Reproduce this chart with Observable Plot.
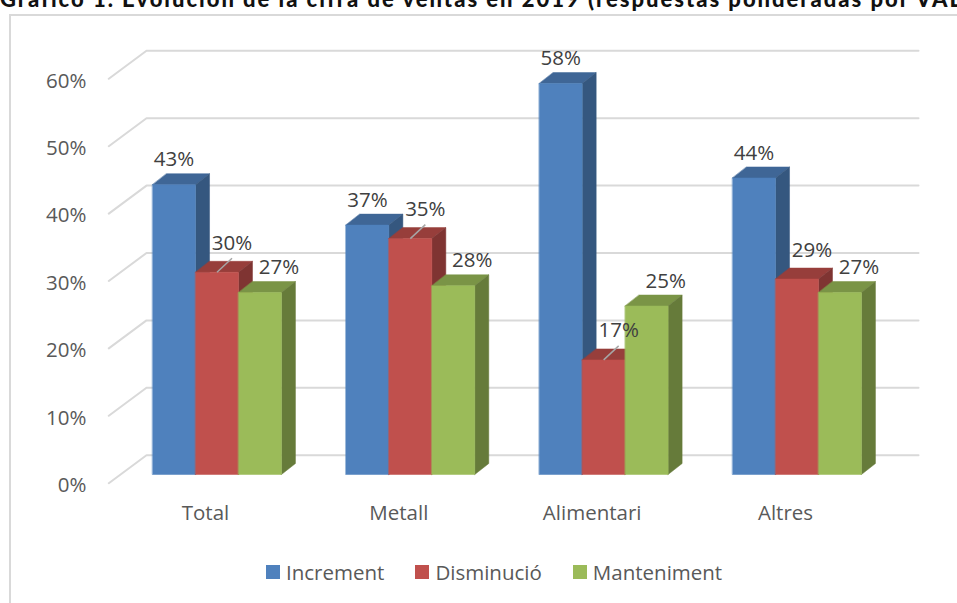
<!DOCTYPE html>
<html><head><meta charset="utf-8">
<script src="https://cdn.jsdelivr.net/npm/d3@7"></script>
<script src="https://cdn.jsdelivr.net/npm/@observablehq/plot@0.6"></script>
<style>
html,body{margin:0;padding:0;background:#fff;}
body{width:957px;height:603px;overflow:hidden;position:relative;font-family:"Open Sans",sans-serif;}
#title{position:absolute;left:0;top:0;width:957px;height:15px;overflow:hidden;}
#title span{position:absolute;left:0;white-space:nowrap;font-family:Lato;font-weight:900;font-size:22px;color:#111;line-height:22px;top:-12px;}
#box{position:absolute;left:9px;top:14px;width:1000px;height:700px;border-left:2px solid #d9d9d9;border-top:2px solid #d9d9d9;}
#chart{position:absolute;left:0;top:1px;}
#legend{position:absolute;left:266px;top:558px;}
#legend .lg-swatches-wrap{min-height:28px !important;margin:0 !important;}
#legend .lg-swatch{margin-right:31px !important;}
#legend .lg-swatch > svg{margin-right:6px !important;}
</style>
</head><body>
<div id="title"><span id="tspan"></span></div>
<div id="box"><div id="chart"></div></div>
<div id="legend"></div>
<script>
const titleText = "Gráfico 1. Evolución de la cifra de ventas en 2019 (respuestas ponderadas por VAB)";
const categories = ["Total", "Metall", "Alimentari", "Altres"];
const series = ["Increment", "Disminució", "Manteniment"];
const increment = [43, 37, 58, 44];
const disminucio = [30, 35, 17, 29];
const manteniment = [27, 28, 25, 27];
const yTicks = [0, 10, 20, 30, 40, 50, 60];
const leaderCats = ["Total", "Metall", "Alimentari"];

// styles
const frontColors = ["#4f81bd", "#c0504d", "#9bbb59"];
const sideColors  = ["#35577f", "#7f3432", "#667b3a"];
const topColors   = ["#3f6696", "#973e3b", "#7a9446"];
const labelOffsets = [[0, -25], [15, -29], [19, -25]];
const values = [increment, disminucio, manteniment];

// geometry (data units)
const w = 2 / 9;           // bar width in category units
const ddx = 14 / 193.33;    // bar depth, x
const ddy = 11 / 6.74;      // bar depth, y
const wallDy = 19.3 / 6.74;
const floorDy = -8.7 / 6.74;
const wallX0 = -0.5597, wallX1 = -0.3647, wallX2 = 3.6285;

// title fitting
(function(){
  const span = document.getElementById("tspan");
  span.textContent = titleText;
  const c = document.createElement("canvas").getContext("2d");
  c.font = "900 22px Lato";
  const pre = titleText.slice(0, titleText.indexOf("VAB") + 2);
  const wd = c.measureText(pre).width;
  span.style.letterSpacing = ((951 - wd) / pre.length) + "px";
})();

// gridlines
const grid = [];
for (const L of yTicks) {
  grid.push({level: L, x: wallX0, y: L + floorDy});
  grid.push({level: L, x: wallX1, y: L + wallDy});
  grid.push({level: L, x: wallX2, y: L + wallDy});
}

// bars as polygons
const polys = [];
const labels = [];
categories.forEach((cat, i) => {
  series.forEach((s, j) => {
    const v = values[j][i];
    const xl = i + (j - 1.5) * w, xr = xl + w;
    const id = cat + "-" + s;
    const add = (face, color, pts) => pts.forEach(([x, y]) => polys.push({id: id + face, color, x, y}));
    add("top", topColors[j], [[xl, v], [xr, v], [xr + ddx, v + ddy], [xl + ddx, v + ddy]]);
    add("side", sideColors[j], [[xr, 0], [xr + ddx, ddy], [xr + ddx, v + ddy], [xr, v]]);
    add("front", frontColors[j], [[xl, 0], [xr, 0], [xr, v], [xl, v]]);
    labels.push({cat, s, j, v, x: xl + w / 2, text: v + "%"});
  });
});

const leaders = labels.filter(d => d.j === 1 && leaderCats.includes(d.cat))
  .map(d => ({x1: d.x, y1: d.v, x2: d.x + 15 / 193.33, y2: d.v + 14 / 6.74}));

const textStyle = {fontSize: 20.5, fill: "#404040", textAnchor: "middle", lineAnchor: "middle"};

const chart = Plot.plot({
  width: 946,
  height: 530,
  marginLeft: 80,
  marginBottom: 73,
  marginTop: 0,
  marginRight: 0,
  style: {fontFamily: "'Open Sans', sans-serif", fontSize: "20.5px", color: "#595959", background: "transparent"},
  x: {type: "linear", domain: [0, 3], range: [205.5, 785.5]},
  y: {domain: [0, 60], range: [457, 52.6]},
  color: {type: "identity"},
  marks: [
    Plot.line(grid, {x: "x", y: "y", z: "level", stroke: "#d9d9d9", strokeWidth: 2}),
    Plot.line(polys, {x: "x", y: "y", z: "id", fill: "color", stroke: "color", strokeWidth: 0.5, curve: "linear-closed"}),
    Plot.link(leaders, {x1: "x1", y1: "y1", x2: "x2", y2: "y2", stroke: "#a6a6a6", strokeWidth: 1.5}),
    ...[0, 1, 2].map(j => Plot.text(labels.filter(d => d.j === j), {
      x: "x", y: "v", text: "text", dx: labelOffsets[j][0], dy: labelOffsets[j][1], ...textStyle
    })),
    Plot.axisY({ticks: yTicks, tickFormat: d => d + "%", tickSize: 0, tickPadding: 5, dy: 11, fontSize: 20.5}),
    Plot.axisX({ticks: [0, 1, 2, 3], tickFormat: i => categories[i], tickSize: 0, tickPadding: 31, dx: -11.5, fontSize: 20.5})
  ]
});
document.getElementById("chart").appendChild(chart);

const legend = Plot.legend({
  color: {type: "ordinal", domain: series, range: frontColors},
  swatchSize: 14,
  className: "lg",
  style: {fontFamily: "'Open Sans', sans-serif", fontSize: "20.5px", color: "#595959"}
});
document.getElementById("legend").appendChild(legend);
</script>
</body></html>
